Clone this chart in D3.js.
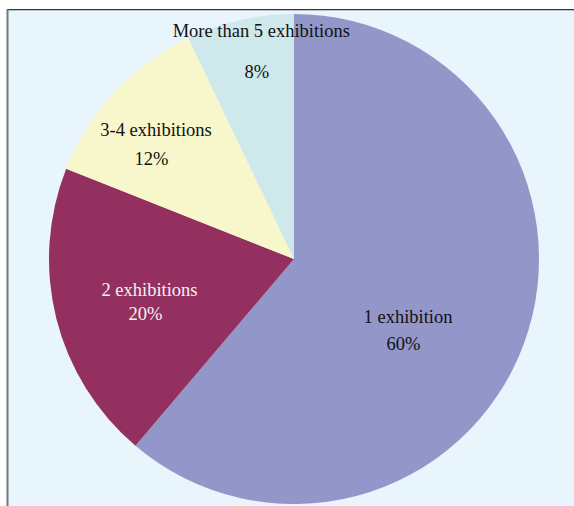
<!DOCTYPE html>
<html><head><meta charset="utf-8">
<script src="https://cdn.jsdelivr.net/npm/d3@7"></script>
<style>html,body{margin:0;padding:0;background:#fff;}svg{display:block;}</style>
</head><body>
<svg id="c" width="574" height="506"></svg>
<script>
const categories = ["1 exhibition", "2 exhibitions", "3-4 exhibitions", "More than 5 exhibitions"];
const values = [61.2, 19.8, 11.9, 7.1];
const percentLabels = ["60%", "20%", "12%", "8%"];
const colors = ["#9396c9", "#93305f", "#f8f6cb", "#cee8ec"];
const textColors = ["#111", "#f4f0f4", "#111", "#111"];

const svg = d3.select("#c");
const W = 574, H = 506;
svg.append("rect").attr("x", 8).attr("y", 9).attr("width", W - 8).attr("height", H - 9).attr("fill", "#e8f5fc");
svg.append("line").attr("x1", 8).attr("x2", W).attr("y1", 9.5).attr("y2", 9.5).attr("stroke", "#333").attr("stroke-width", 1);
svg.append("line").attr("x1", 8).attr("x2", W).attr("y1", 10.5).attr("y2", 10.5).attr("stroke", "#b8c4cc").attr("stroke-width", 1);
svg.append("line").attr("x1", 7.5).attr("x2", 7.5).attr("y1", 9).attr("y2", H).attr("stroke", "#777").attr("stroke-width", 2);

const cx = 294, cy = 259, R = 245;
const g = svg.append("g").attr("transform", `translate(${cx},${cy})`);
const pie = d3.pie().sort(null).value(d => d)(values);
const arc = d3.arc().innerRadius(0).outerRadius(R);
g.selectAll("path").data(pie).join("path")
  .attr("d", arc).attr("fill", (d, i) => colors[i]);

// label placement (offsets from pie centre): [line1 dx, dy, line2 dx, dy]
const labelLayout = [
  [114, 64, 109.5, 91],
  [-144.5, 37, -148.5, 61],
  [-138, -123, -142.5, -94],
  [-32.7, -221.7, -37.3, -180.7]
];
const lg = g.append("g").attr("font-family", "'Liberation Serif', 'Times New Roman', serif").attr("font-size", "18.5px").attr("text-anchor", "middle");
pie.forEach((d, i) => {
  const L = labelLayout[i];
  lg.append("text").attr("x", L[0]).attr("y", L[1]).attr("fill", textColors[i]).text(categories[i]);
  lg.append("text").attr("x", L[2]).attr("y", L[3]).attr("fill", textColors[i]).text(percentLabels[i]);
});
</script>
</body></html>
